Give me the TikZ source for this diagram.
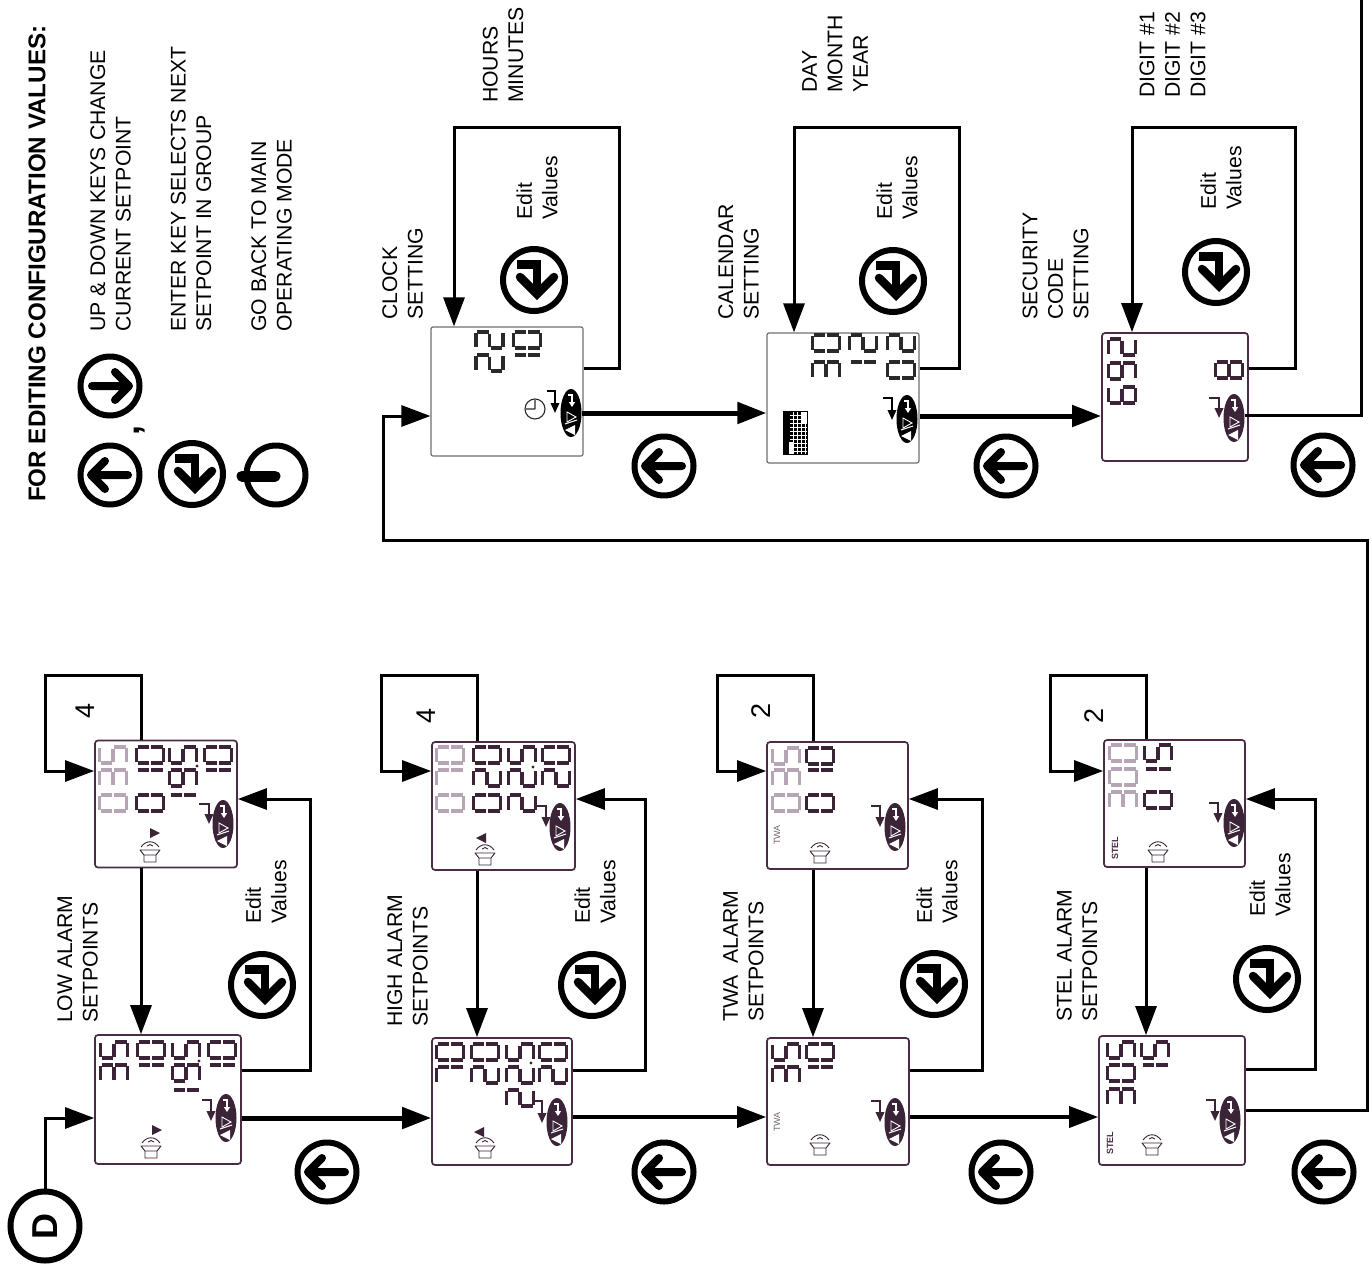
\documentclass[tikz,border=0pt]{standalone}
\usepackage{fontspec}
\setmainfont{Liberation Sans}
\usetikzlibrary{arrows.meta,shapes.geometric,calc}
\definecolor{lcdD}{HTML}{3B2438}
\definecolor{lcdL}{HTML}{B5A5B5}
\definecolor{lcdB}{HTML}{2A2A2A}
\definecolor{frameG}{HTML}{707070}
\definecolor{frameP}{HTML}{4A2D45}
\newcommand\sgA{\draw[sg] (-13.5,-7)--(-13.5,7);}
\newcommand\sgB{\draw[sg] (-12.5,-8)--(-1,-8);}
\newcommand\sgC{\draw[sg] (1,-8)--(12.5,-8);}
\newcommand\sgD{\draw[sg] (13.5,-7)--(13.5,7);}
\newcommand\sgE{\draw[sg] (1,8)--(12.5,8);}
\newcommand\sgF{\draw[sg] (-12.5,8)--(-1,8);}
\newcommand\sgG{\draw[sg] (0,-6.5)--(0,6.5);}
% \lcdd{x}{y}{digit}{colour}
\newcommand\lcdd[4]{\begin{scope}[shift={(#1,#2)},sg/.style={line width=3.4pt,color=#4}]
\ifcase#3 \sgA\sgB\sgC\sgD\sgE\sgF
\or \sgB\sgC
\or \sgA\sgB\sgG\sgE\sgD
\or \sgA\sgB\sgG\sgC\sgD
\or \sgF\sgG\sgB\sgC
\or \sgA\sgF\sgG\sgC\sgD
\or \sgA\sgF\sgG\sgE\sgC\sgD
\or \sgA\sgB\sgC
\or \sgA\sgB\sgC\sgD\sgE\sgF\sgG
\or \sgA\sgB\sgC\sgD\sgF\sgG
\fi\end{scope}}
% oval key strip
\newcommand\ovalkey[4]{\node[ovalk,fill=#4] (#1) at (#2,#3) {};
\begin{scope}[shift={(#2,#3)}]
\draw[white,line width=1.2pt,-{Triangle[length=5pt,width=6pt]}] (-3,-18)--(1,-18)--(1,-6);
\draw[white,line width=.9pt,fill=#4] (-4,-1)--(-4,9)--(5,4)--cycle;
\draw[white,line width=1pt] (6,7)--(-6,11);
\fill[white] (-6,17)--(4,12)--(4,22)--cycle;
\end{scope}}
% enter arrow on display
\newcommand\entarr[5]{\draw[line width=1.9pt,color=#5,-{Triangle[length=10pt,width=8.5pt]}] (#1,#2)--(#3,#2)--(#3,#4);}
% horn
\newcommand\horn[3]{\begin{scope}[shift={(#1,#2)}]\draw[line width=.9pt,color=#3,line join=round]
(-10,-2)--(10,-2)--(6,3)--(6,10)--(-6,10)--(-6,3)--cycle (-6,3)--(6,3)
(-9,-5) .. controls (-4,-12) and (4,-12) .. (9,-5)
(-3,-6) .. controls (-1,-8) and (1,-8) .. (3,-6);\end{scope}}
% key icons
\newcommand\keyleft[3]{\node[keyc] (#1) at (#2,#3) {};
\begin{scope}[shift={(#2,#3)}]\draw[glyph] (18,0)--(-15,0) (-5,-14)--(-19,0)--(-5,14);\end{scope}}
\newcommand\keyright[3]{\node[keyc] (#1) at (#2,#3) {};
\begin{scope}[shift={(#2,#3)}]\draw[glyph] (-18,0)--(15,0) (5,-14)--(19,0)--(5,14);\end{scope}}
\newcommand\keyenter[3]{\node[keyc,minimum size=62pt] (#1) at (#2,#3) {};
\begin{scope}[shift={(#2,#3)}]\draw[line width=8.5pt,line join=miter] (-17,-15.5)--(3,-15.5)--(3,14);
\draw[line width=8.5pt,line cap=round,line join=miter] (-14,-3)--(3,14)--(20,-3);\end{scope}}
\tikzset{
  x=1pt,y=-1pt,
  rt/.style={rotate=90,align=left,anchor=west,inner sep=0pt,font=\fontsize{21.2}{25.5}\selectfont},
  rc/.style={rotate=90,align=left,anchor=center,inner sep=0pt,font=\fontsize{21.2}{25.5}\selectfont},
  lcdg/.style={draw=frameG,line width=1.2pt,rounded corners=2pt,inner sep=0pt,fill=white},
  lcdp/.style={draw=frameP,line width=1.7pt,rounded corners=3pt,inner sep=0pt,fill=white},
  ovalk/.style={ellipse,minimum width=21pt,minimum height=48pt,inner sep=0pt},
  keyc/.style={circle,draw=black,line width=6pt,minimum size=59pt,inner sep=0pt},
  glyph/.style={line width=8pt,line cap=round,line join=round},
  flow/.style={line width=3pt,line join=miter,-{Triangle[length=29pt,width=21pt]}},
  flowm/.style={line width=3.6pt,-{Triangle[length=29pt,width=21pt]}},
  flowb/.style={line width=5pt,-{Triangle[length=29pt,width=21pt]}},
  wire/.style={line width=3pt,line join=miter}
}
\begin{document}
\begin{tikzpicture}
\useasboundingbox (0,0) rectangle (1372,1263);
% ------- displays
\node[lcdg,minimum width=152pt,minimum height=129pt] (clock) at (507,391.5) {};
\node[lcdg,minimum width=152pt,minimum height=130pt] (cal) at (843,398) {};
\node[lcdp,minimum width=146pt,minimum height=128pt] (sec) at (1175,397) {};
\node[lcdp,minimum width=142pt,minimum height=127pt] (lowu) at (166,804) {};
\node[lcdp,minimum width=146pt,minimum height=129pt] (lowl) at (168,1099.5) {};
\node[lcdp,minimum width=143pt,minimum height=128pt] (highu) at (503.5,806) {};
\node[lcdp,minimum width=140pt,minimum height=127pt] (highl) at (502,1101.5) {};
\node[lcdp,minimum width=141pt,minimum height=127pt] (twau) at (837.5,805.5) {};
\node[lcdp,minimum width=142pt,minimum height=127pt] (twal) at (838,1101.5) {};
\node[lcdp,minimum width=141pt,minimum height=127pt] (stelu) at (1174.5,803.5) {};
\node[lcdp,minimum width=146pt,minimum height=129pt] (stell) at (1172,1100.5) {};
% ------- digits: clock
\lcdd{489.5}{340}{2}{lcdB}\lcdd{489.5}{363}{2}{lcdB}
\lcdd{527}{340}{0}{lcdB}\lcdd{527}{363}{1}{lcdB}
\draw[line width=1.1pt,lcdB] (535,409) circle (10pt) (535,409)--(535,400) (535,409)--(526,409);
\entarr{547}{391}{555}{413}{black}
\ovalkey{oclock}{571}{413}{black}
% calendar
\lcdd{826}{343}{0}{lcdB}\lcdd{826}{370}{3}{lcdB}
\lcdd{863}{343}{2}{lcdB}\lcdd{863}{370}{1}{lcdB}
\lcdd{901}{343}{2}{lcdB}\lcdd{901}{370}{0}{lcdB}
\fill[black] (783,411) rectangle (808,455);
\foreach \yy in {415,419,423,427,431,435,439,443,447,451} \draw[white,line width=.7pt] (790,\yy)--(807,\yy);
\foreach \xx in {793,797,801,805} \draw[white,line width=.7pt] (\xx,412)--(\xx,454);
\fill[white] (802,412) rectangle (807,424);
\fill[white] (789,442) rectangle (794,454);
\entarr{883}{398}{892}{420}{black}
\ovalkey{ocal}{907}{419}{black}
% security
\lcdd{1122}{347}{2}{lcdD}\lcdd{1122}{371}{9}{lcdD}\lcdd{1122}{395}{6}{lcdD}
\lcdd{1229}{370}{8}{lcdD}
\entarr{1209}{398}{1219}{418}{lcdD}
\ovalkey{osec}{1234}{418}{lcdD}
% low upper
\lcdd{113}{755}{5}{lcdL}\lcdd{113}{778}{3}{lcdL}\lcdd{113}{803}{0}{lcdL}
\lcdd{150}{755}{0}{lcdD}\lcdd{150}{778}{1}{lcdD}\lcdd{150}{803}{0}{lcdD}
\lcdd{183}{755}{5}{lcdD}\lcdd{183}{778}{9}{lcdD}\lcdd{183}{803}{1}{lcdD}
\fill[lcdD] (197,766) circle (1.6pt);
\lcdd{218}{755}{0}{lcdD}\lcdd{218}{778}{1}{lcdD}
\entarr{199}{804}{209}{824}{lcdD}
\ovalkey{olowu}{223}{824}{lcdD}
\horn{150}{852}{lcdD}
\fill[lcdD] (150,828)--(150,838)--(160,833)--cycle;
% low lower
\lcdd{114}{1050}{5}{lcdD}\lcdd{114}{1073}{3}{lcdD}
\lcdd{151}{1050}{0}{lcdD}\lcdd{151}{1073}{1}{lcdD}
\lcdd{186}{1050}{5}{lcdD}\lcdd{186}{1073}{9}{lcdD}\lcdd{186}{1098}{1}{lcdD}
\fill[lcdD] (199,1061) circle (1.6pt);
\lcdd{222}{1050}{0}{lcdD}\lcdd{222}{1073}{1}{lcdD}
\entarr{202}{1100}{211}{1121}{lcdD}
\ovalkey{olowl}{226}{1118}{lcdD}
\horn{151}{1148}{lcdD}
\fill[lcdD] (152,1125)--(152,1135)--(162,1130)--cycle;
% high upper
\lcdd{450}{755}{0}{lcdL}\lcdd{450}{778}{7}{lcdL}\lcdd{450}{803}{0}{lcdL}
\lcdd{487}{755}{0}{lcdD}\lcdd{487}{778}{2}{lcdD}\lcdd{487}{803}{0}{lcdD}
\lcdd{522}{755}{5}{lcdD}\lcdd{522}{778}{2}{lcdD}\lcdd{522}{803}{2}{lcdD}
\fill[lcdD] (533,767) circle (1.6pt);
\lcdd{556}{755}{0}{lcdD}\lcdd{556}{778}{2}{lcdD}
\entarr{537}{806}{546}{827}{lcdD}
\ovalkey{ohighu}{560}{827}{lcdD}
\horn{485}{855}{lcdD}
\fill[lcdD] (486,833)--(486,843)--(476,838)--cycle;
% high lower
\lcdd{450}{1052}{0}{lcdD}\lcdd{450}{1075}{7}{lcdD}
\lcdd{485}{1052}{0}{lcdD}\lcdd{485}{1075}{2}{lcdD}
\lcdd{520}{1052}{5}{lcdD}\lcdd{520}{1075}{2}{lcdD}\lcdd{520}{1098}{2}{lcdD}
\fill[lcdD] (531,1063) circle (1.6pt);
\lcdd{553}{1052}{0}{lcdD}\lcdd{553}{1075}{2}{lcdD}
\entarr{534}{1101}{542}{1123}{lcdD}
\ovalkey{ohighl}{557}{1122}{lcdD}
\horn{485}{1148}{lcdD}
\fill[lcdD] (484,1127)--(484,1137)--(474,1132)--cycle;
% twa upper
\lcdd{786}{756}{5}{lcdL}\lcdd{786}{778}{3}{lcdL}\lcdd{786}{803}{0}{lcdL}
\lcdd{820}{756}{0}{lcdD}\lcdd{820}{778}{1}{lcdD}\lcdd{820}{803}{0}{lcdD}
\entarr{871}{806}{880}{827}{lcdD}
\ovalkey{otwau}{895}{827}{lcdD}
\horn{820}{853}{lcdD}
\node[rotate=90,inner sep=0pt,font=\fontsize{9}{9}\selectfont,text=frameP!75] (ttwau) at (777,835) {TWA};
% twa lower
\lcdd{786}{1052}{5}{lcdD}\lcdd{786}{1075}{3}{lcdD}
\lcdd{820}{1052}{0}{lcdD}\lcdd{820}{1075}{1}{lcdD}
\entarr{871}{1101}{880}{1122}{lcdD}
\ovalkey{otwal}{895}{1122}{lcdD}
\horn{820}{1145}{lcdD}
\node[rotate=90,inner sep=0pt,font=\fontsize{9}{9}\selectfont,text=frameP!75] (ttwal) at (777,1122) {TWA};
% stel upper
\lcdd{1123}{753}{0}{lcdL}\lcdd{1123}{777}{0}{lcdL}\lcdd{1123}{800}{3}{lcdL}
\lcdd{1158}{753}{5}{lcdD}\lcdd{1158}{777}{1}{lcdD}\lcdd{1158}{800}{0}{lcdD}
\entarr{1209}{803}{1218}{823}{lcdD}
\ovalkey{ostelu}{1234}{823}{lcdD}
\horn{1158}{852}{lcdD}
\node[rotate=90,inner sep=0pt,font=\fontsize{9}{9}\selectfont\bfseries,text=frameP] (tstelu) at (1115,848) {STEL};
% stel lower
\lcdd{1121}{1050}{5}{lcdD}\lcdd{1121}{1073}{0}{lcdD}\lcdd{1121}{1097}{3}{lcdD}
\lcdd{1155}{1050}{5}{lcdD}\lcdd{1155}{1073}{1}{lcdD}
\entarr{1206}{1100}{1215}{1121}{lcdD}
\ovalkey{ostell}{1230}{1120}{lcdD}
\horn{1152}{1145}{lcdD}
\node[rotate=90,inner sep=0pt,font=\fontsize{9}{9}\selectfont\bfseries,text=frameP] (tstell) at (1110,1143) {STEL};
% ------- key icons
\keyleft{kl0}{110}{475}\keyright{kr0}{110}{386}
\keyenter{ke0}{192}{474}
\node[keyc] (kb0) at (276,475) {};
\draw[line width=11pt,line cap=round] (242,476)--(275,476);
\node[rotate=90,inner sep=0pt,font=\fontsize{36}{36}\selectfont\bfseries] (comma) at (140,430) {,};
\keyenter{ke1}{534}{280}\keyenter{ke2}{893}{281}\keyenter{ke3}{1216}{272}
\keyenter{ke4}{262}{985}\keyenter{ke5}{592}{985}\keyenter{ke6}{934}{984}\keyenter{ke7}{1267}{979}
\keyleft{kl1}{664}{466}\keyleft{kl2}{1006}{466}\keyleft{kl3}{1323}{465}
\keyleft{kl4}{327}{1172}\keyleft{kl5}{664}{1172}\keyleft{kl6}{1001}{1172}\keyleft{kl7}{1324}{1172}
\node[circle,draw=black,line width=6pt,minimum size=69pt,inner sep=0pt] (dd) at (45,1226) {};
\node[rotate=90,inner sep=0pt,font=\fontsize{36}{36}\selectfont\bfseries] (ddt) at (45,1226) {D};
% ------- connectors
\coordinate (a1) at (619,368);\coordinate (a2) at (619,127);\coordinate (a3) at (454,127);
\draw[flow] (clock.east |- a1)--(a1)--(a2)--(a3)--(clock.north -| a3);
\coordinate (b1) at (959,368);\coordinate (b2) at (959,127);\coordinate (b3) at (794,127);
\draw[flow] (cal.east |- b1)--(b1)--(b2)--(b3)--(cal.north -| b3);
\coordinate (c1) at (1295,368);\coordinate (c2) at (1295,127);\coordinate (c3) at (1132,127);
\draw[flow] (sec.east |- c1)--(c1)--(c2)--(c3)--(sec.north -| c3);
\draw[flowb] (oclock.east)--(cal.west |- oclock);
\coordinate (d0) at (919,416);
\draw[flowb] (cal.east |- d0)--(sec.west |- d0);
\coordinate (e1) at (1361,415);\coordinate (e2) at (1361,0);
\draw[wire] (osec.east |- e1)--(e1)--(e2);
\coordinate (f0) at (1245,1110);\coordinate (f1) at (1367,1110);\coordinate (f2) at (1367,540);\coordinate (f3) at (383,540);\coordinate (f4) at (383,416);
\draw[flow] (stell.east |- f0)--(f1)--(f2)--(f3)--(f4)--(clock.west |- f4);
\coordinate (g1) at (45,1118);
\draw[flow] (dd.north)--(g1)--(lowl.west |- g1);
% stubs
\coordinate (s1a) at (141,675);\coordinate (s1b) at (45,675);\coordinate (s1c) at (45,771);
\draw[flow] (lowu.north -| s1a)--(s1a)--(s1b)--(s1c)--(lowu.west |- s1c);
\coordinate (s2a) at (477,675);\coordinate (s2b) at (381,675);\coordinate (s2c) at (381,771);
\draw[flow] (highu.north -| s2a)--(s2a)--(s2b)--(s2c)--(highu.west |- s2c);
\coordinate (s3a) at (813,675);\coordinate (s3b) at (717,675);\coordinate (s3c) at (717,771);
\draw[flow] (twau.north -| s3a)--(s3a)--(s3b)--(s3c)--(twau.west |- s3c);
\coordinate (s4a) at (1146,675);\coordinate (s4b) at (1050,675);\coordinate (s4c) at (1050,771);
\draw[flow] (stelu.north -| s4a)--(s4a)--(s4b)--(s4c)--(stelu.west |- s4c);
% downward
\draw[flow] (lowu.south -| s1a)--(lowl.north -| s1a);
\draw[flow] (highu.south -| s2a)--(highl.north -| s2a);
\draw[flow] (twau.south -| s3a)--(twal.north -| s3a);
\draw[flow] (stelu.south -| s4a)--(stell.north -| s4a);
% edit loops
\coordinate (l1a) at (310,1070);\coordinate (l1b) at (310,799);
\draw[flow] (lowl.east |- l1a)--(l1a)--(l1b)--(lowu.east |- l1b);
\coordinate (l2a) at (645,1070);\coordinate (l2b) at (645,799);
\draw[flow] (highl.east |- l2a)--(l2a)--(l2b)--(highu.east |- l2b);
\coordinate (l3a) at (982,1070);\coordinate (l3b) at (982,799);
\draw[flow] (twal.east |- l3a)--(l3a)--(l3b)--(twau.east |- l3b);
\coordinate (l4a) at (1315,1069);\coordinate (l4b) at (1315,799);
\draw[flow] (stell.east |- l4a)--(l4a)--(l4b)--(stelu.east |- l4b);
% across
\draw[flowb] (lowl.east |- olowl)--(highl.west |- olowl);
\coordinate (m1) at (577,1117);\coordinate (m2) at (912,1117);
\draw[flowm] (highl.east |- m1)--(twal.west |- m1);
\draw[flowm] (twal.east |- m2)--(stell.west |- m2);
% ------- texts
\node[rt,font=\fontsize{24.2}{26}\selectfont\bfseries] (title) at (37,502) {FOR EDITING CONFIGURATION VALUES:};
\node[rt] (t1) at (110.5,332) {UP \& DOWN KEYS CHANGE\\CURRENT SETPOINT};
\node[rt] (t2) at (191,332) {ENTER KEY SELECTS NEXT\\SETPOINT IN GROUP};
\node[rt] (t3) at (271.5,332) {GO BACK TO MAIN\\OPERATING MODE};
\node[rt] (t4) at (503,103) {HOURS\\MINUTES};
\node[rt] (t5) at (835,93) {DAY\\MONTH\\YEAR};
\node[rt] (t6) at (1172.5,98) {DIGIT \#1\\DIGIT \#2\\DIGIT \#3};
\node[rt] (t7) at (402.5,320) {CLOCK\\SETTING};
\node[rt] (t8) at (738.5,320) {CALENDAR\\SETTING};
\node[rt] (t9) at (1055.5,320) {SECURITY\\CODE\\SETTING};
\node[rt] (t10) at (77.5,1023) {LOW ALARM\\SETPOINTS};
\node[rt] (t11) at (407.5,1027) {HIGH ALARM\\SETPOINTS};
\node[rt] (t12) at (743.5,1022) {TWA\ \ ALARM\\SETPOINTS};
\node[rt] (t13) at (1077,1022) {STEL ALARM\\SETPOINTS};
\node[rc] (e1t) at (537,188) {Edit\\Values};
\node[rc] (e2t) at (897,188) {Edit\\Values};
\node[rc] (e3t) at (1221,178) {Edit\\Values};
\node[rc] (e4t) at (266,892) {Edit\\Values};
\node[rc] (e5t) at (595,892) {Edit\\Values};
\node[rc] (e6t) at (937,892) {Edit\\Values};
\node[rc] (e7t) at (1270,885) {Edit\\Values};
\node[rc,font=\fontsize{27}{27}\selectfont] (n1) at (85,711) {4};
\node[rc,font=\fontsize{27}{27}\selectfont] (n2) at (426,716) {4};
\node[rc,font=\fontsize{27}{27}\selectfont] (n3) at (761,711) {2};
\node[rc,font=\fontsize{27}{27}\selectfont] (n4) at (1094,716) {2};
\end{tikzpicture}
\end{document}
